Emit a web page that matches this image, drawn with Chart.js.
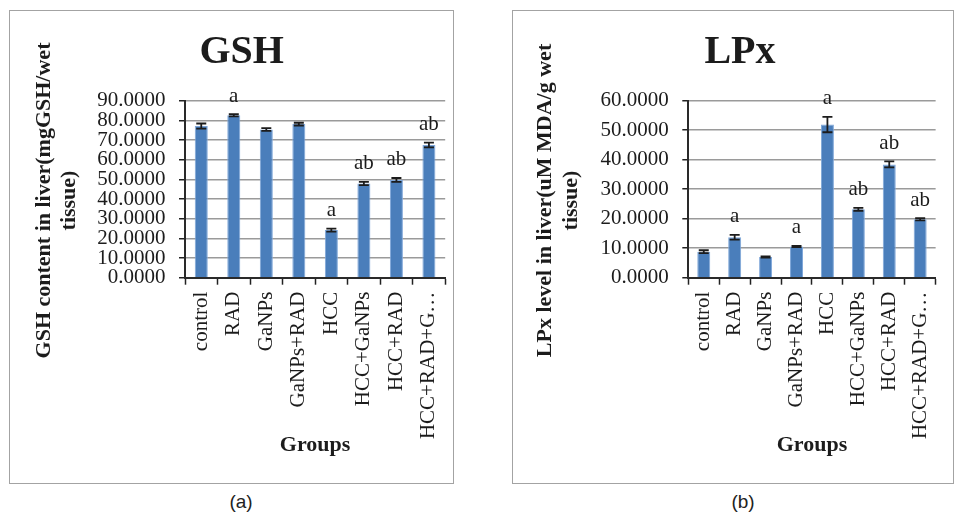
<!DOCTYPE html>
<html>
<head>
<meta charset="utf-8">
<script src="https://cdn.jsdelivr.net/npm/chart.js@4"></script>
<style>
  html, body { margin: 0; padding: 0; background: #ffffff; }
  body { width: 957px; height: 513px; position: relative; overflow: hidden; }
  .frame { position: absolute; border: 1.5px solid #a3a3a3; box-sizing: border-box; }
  canvas { position: absolute; }
  .cap { position: absolute; font-family: "Liberation Sans", "Noto Sans", sans-serif; font-size: 19px; color: #222; transform: translateX(-50%); }
</style>
</head>
<body>
<div class="frame" style="left:9px; top:10px; width:445px; height:474px;"></div>
<div class="frame" style="left:512px; top:10px; width:442px; height:474px;"></div>
<canvas id="gsh" width="440" height="472" style="left:22px; top:11px;"></canvas>
<canvas id="lpx" width="426" height="472" style="left:527px; top:11px;"></canvas>
<div class="cap" style="left:241px; top:491px;">(a)</div>
<div class="cap" style="left:743px; top:491px;">(b)</div>
<script>
// Treatment groups shared by both panels
const categories = ['control', 'RAD', 'GaNPs', 'GaNPs+RAD', 'HCC', 'HCC+GaNPs', 'HCC+RAD', 'HCC+RAD+G\u2026'];

// GSH content in liver (mean, SE, significance letters)
const gshMeans   = [77.1, 82.6, 75.4, 78.1, 24.2, 47.9, 49.7, 67.5];
const gshErrors  = [1.3, 0.6, 0.7, 0.7, 0.8, 0.8, 1.0, 1.2];
const gshLetters = ['', 'a', '', '', 'a', 'ab', 'ab', 'ab'];
const gshTicks   = ['0.0000', '10.0000', '20.0000', '30.0000', '40.0000', '50.0000', '60.0000', '70.0000', '80.0000', '90.0000'];

// LPx level in liver (mean, SE, significance letters)
const lpxMeans   = [8.8, 13.7, 7.0, 10.6, 51.9, 23.2, 38.4, 19.8];
const lpxErrors  = [0.5, 0.8, 0.2, 0.2, 2.6, 0.5, 1.0, 0.4];
const lpxLetters = ['', 'a', '', 'a', 'a', 'ab', 'ab', 'ab'];
const lpxTicks   = ['0.0000', '10.0000', '20.0000', '30.0000', '40.0000', '50.0000', '60.0000'];

const SERIF = '"Liberation Serif", "DejaVu Serif", serif';
const INK = '#1c1c1c';

// Error bars and significance letters drawn on top of each bar
const errorBarPlugin = {
  id: 'errorBars',
  afterDatasetsDraw(chart, args, opts) {
    const ctx = chart.ctx;
    const y = chart.scales.y;
    const meta = chart.getDatasetMeta(0);
    ctx.save();
    ctx.strokeStyle = INK;
    ctx.lineWidth = 1.8;
    meta.data.forEach((bar, i) => {
      const m = opts.means[i], e = opts.errors[i];
      const yTop = y.getPixelForValue(m + e);
      const yBot = y.getPixelForValue(m - e);
      const x = bar.x, half = 5;
      ctx.beginPath();
      ctx.moveTo(x, yTop); ctx.lineTo(x, yBot);
      ctx.moveTo(x - half, yTop); ctx.lineTo(x + half, yTop);
      ctx.moveTo(x - half, yBot); ctx.lineTo(x + half, yBot);
      ctx.stroke();
      if (opts.letters[i]) {
        ctx.fillStyle = INK;
        ctx.font = '21px ' + SERIF;
        ctx.textAlign = 'center';
        ctx.textBaseline = 'alphabetic';
        ctx.fillText(opts.letters[i], x, yTop - 12.5);
      }
    });
    ctx.restore();
  }
};

// Two-line rotated value-axis title
const yTitlePlugin = {
  id: 'yTitle',
  afterDraw(chart, args, opts) {
    const ctx = chart.ctx;
    ctx.save();
    ctx.translate(opts.x, opts.y);
    ctx.rotate(-Math.PI / 2);
    ctx.fillStyle = INK;
    ctx.font = 'bold 22px ' + SERIF;
    ctx.textAlign = 'center';
    ctx.textBaseline = 'alphabetic';
    opts.lines.forEach((line, i) => ctx.fillText(line, 0, i * opts.gap));
    ctx.restore();
  }
};

function buildChart(id, cfg) {
  return new Chart(document.getElementById(id), {
    type: 'bar',
    data: {
      labels: categories,
      datasets: [{
        data: cfg.means,
        backgroundColor: '#4a7ebb',
        borderColor: '#7fa7d9',
        borderWidth: 1,
        barPercentage: cfg.barPct,
        categoryPercentage: 1.0
      }]
    },
    options: {
      responsive: false,
      animation: false,
      devicePixelRatio: 1,
      layout: { padding: { left: cfg.padLeft, right: cfg.padRight, top: 0, bottom: 0 } },
      plugins: {
        legend: { display: false },
        tooltip: { enabled: false },
        title: {
          display: true,
          text: cfg.title,
          color: INK,
          font: { family: SERIF, size: 40, weight: 'bold', lineHeight: 1.2 },
          padding: { top: 17.5, bottom: 24.2 }
        },
        errorBars: { means: cfg.means, errors: cfg.errors, letters: cfg.letters },
        yTitle: { lines: cfg.yTitle, x: cfg.yTitleX, y: 189.5, gap: cfg.yTitleGap }
      },
      scales: {
        x: {
          afterFit(scale) { scale.height = 205.3; },
          grid: {
            drawOnChartArea: false,
            drawTicks: true,
            tickLength: 7,
            tickColor: '#222',
            tickWidth: 1.5,
            offset: true
          },
          border: { color: '#2a2a2a', width: 2 },
          ticks: {
            color: INK,
            font: { family: SERIF, size: 21 },
            minRotation: 90,
            maxRotation: 90,
            autoSkip: false,
            padding: 7
          },
          title: {
            display: true,
            text: 'Groups',
            color: INK,
            font: { family: SERIF, size: 22, weight: 'bold', lineHeight: 1.2 },
            padding: { top: 0, bottom: 24.8 }
          }
        },
        y: {
          min: 0,
          max: cfg.max,
          afterFit(scale) { scale.width = cfg.yWidth; },
          grid: {
            color: '#9a9a9a',
            lineWidth: 1.5,
            drawTicks: true,
            tickLength: 6,
            tickColor: '#222',
            tickWidth: 1.5
          },
          border: { color: '#2a2a2a', width: 2 },
          ticks: {
            stepSize: 10,
            autoSkip: false,
            color: INK,
            padding: 13.5,
            font: { family: SERIF, size: 21 },
            callback: (v, i) => cfg.ticks[i]
          }
        }
      }
    },
    plugins: [errorBarPlugin, yTitlePlugin]
  });
}

buildChart('gsh', {
  title: 'GSH', means: gshMeans, errors: gshErrors, letters: gshLetters, ticks: gshTicks,
  max: 90, barPct: 0.40, padLeft: 13.4, padRight: 14, yWidth: 149.6,
  yTitle: ['GSH content in liver(mgGSH/wet', 'tissue)'], yTitleX: 28, yTitleGap: 25
});

buildChart('lpx', {
  title: 'LPx', means: lpxMeans, errors: lpxErrors, letters: lpxLetters, ticks: lpxTicks,
  max: 60, barPct: 0.42, padLeft: 10, padRight: 10, yWidth: 151.3,
  yTitle: ['LPx level in liver(uM MDA/g wet', 'tissue)'], yTitleX: 24, yTitleGap: 26
});
</script>
</body>
</html>
